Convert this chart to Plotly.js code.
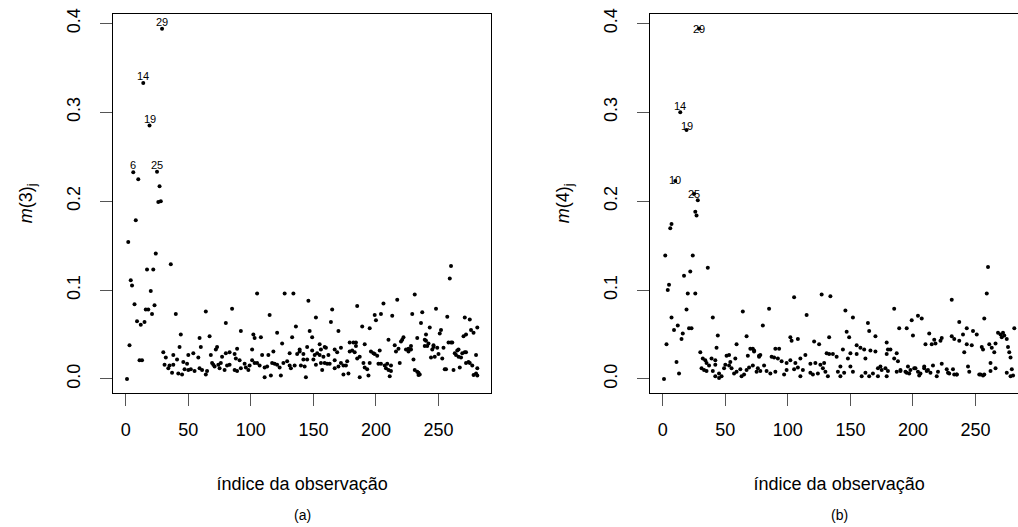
<!DOCTYPE html>
<html><head><meta charset="utf-8">
<script src="https://cdn.plot.ly/plotly-3.0.1.min.js"></script>
<style>html,body{margin:0;padding:0;overflow:hidden;background:#fff}#plot{width:1040px;height:527px}</style>
</head><body><div id="plot"></div>
<script>
// panel (a): observation index and m(3)_j
const obsA = [29,14,19,6,25,10,27,28,26,8,2,
24,36,17,22,4,5,20,105,7,23,21,16,18,40,64,85,9,12,15,80,92,44,102,103,59,67,3,43,60,73,72,89,11,13,1,30,32,31,38,41,38,34,35,37,42,45,47,50,52,55,59,61,65,64,50,54,58,46,49,69,70,74,76,77,80,83,87,88,91,68,71,75,79,81,83,87,89,92,95,96,98,99,101,103,105,
260,259,127,134,231,146,217,185,206,248,165,115,237,199,204,200,213,229,152,257,271,275,164,236,136,189,195,243,281,170,147,121,252,251,276,278,108,149,133,240,270,272,210,222,221,220,233,239,242,246,258,261,125,155,179,184,191,228,226,215,218,216,241,246,245,249,263,265,266,269,271,280,281,275,277,101,107,109,114,118,111,113,111,116,124,117,119,121,123,126,129,131,132,135,131,137,139,139,142,145,140,143,144,142,145,150,151,149,156,159,160,153,155,158,162,156,159,161,163,157,152,167,167,170,172,174,176,177,174,178,167,169,172,179,181,182,184,185,187,187,183,191,193,194,190,195,198,202,204,207,209,208,210,212,212,211,196,199,201,203,219,224,226,228,230,231,234,235,239,240,244,247,250,253,254,256,260,262,264,266,267,268,272,274,280,281,
233,234,255,272,278];
const m3 = [0.394,0.333,0.285,0.2325,0.233,0.2246,0.2167,0.200,0.199,0.1785,0.154,
0.141,0.129,0.123,0.123,0.111,0.105,0.099,0.096,0.084,0.083,0.073,0.078,0.078,0.073,0.076,0.079,0.065,0.061,0.064,0.063,0.054,0.050,0.050,0.046,0.046,0.048,0.038,0.036,0.036,0.036,0.033,0.034,0.021,0.021,0.0,0.030,0.024,0.016,0.027,0.022,0.016,0.012,0.015,0.007,0.006,0.005,0.011,0.010,0.011,0.009,0.012,0.010,0.009,0.005,0.027,0.029,0.024,0.019,0.017,0.018,0.016,0.016,0.018,0.025,0.029,0.030,0.028,0.023,0.021,0.027,0.014,0.012,0.010,0.015,0.016,0.010,0.009,0.012,0.017,0.013,0.010,0.015,0.021,0.018,0.018,
0.127,0.113,0.096,0.096,0.095,0.088,0.089,0.082,0.085,0.079,0.078,0.072,0.075,0.072,0.073,0.066,0.071,0.073,0.069,0.070,0.069,0.067,0.064,0.063,0.059,0.059,0.057,0.058,0.058,0.054,0.054,0.052,0.055,0.051,0.055,0.052,0.047,0.047,0.047,0.050,0.048,0.050,0.044,0.047,0.044,0.042,0.046,0.044,0.040,0.038,0.041,0.041,0.040,0.039,0.041,0.041,0.039,0.037,0.034,0.038,0.034,0.031,0.037,0.036,0.033,0.035,0.029,0.032,0.033,0.029,0.030,0.027,0.012,0.018,0.015,0.033,0.015,0.027,0.027,0.031,0.013,0.014,0.002,0.004,0.004,0.018,0.017,0.016,0.013,0.018,0.020,0.015,0.012,0.015,0.029,0.028,0.031,0.033,0.028,0.036,0.015,0.014,0.002,0.022,0.022,0.022,0.027,0.032,0.033,0.036,0.035,0.029,0.027,0.025,0.027,0.018,0.018,0.017,0.017,0.010,0.016,0.021,0.012,0.014,0.018,0.015,0.015,0.020,0.005,0.006,0.033,0.030,0.035,0.031,0.032,0.041,0.037,0.023,0.025,0.002,0.030,0.013,0.011,0.004,0.018,0.018,0.029,0.017,0.017,0.015,0.017,0.012,0.010,0.009,0.015,0.003,0.031,0.028,0.026,0.032,0.018,0.033,0.031,0.033,0.022,0.010,0.007,0.005,0.037,0.043,0.024,0.025,0.028,0.023,0.035,0.011,0.041,0.010,0.027,0.025,0.013,0.024,0.030,0.019,0.006,0.004,
0.008,0.0045,0.011,0.018,0.0045];
// panel (b): observation index and m(4)_j
const obsB = [29,14,19,10,25,28,26,27,7,6,
2,24,36,22,17,5,4,20,26,19,64,7,40,12,9,21,23,16,15,44,67,3,59,43,30,32,34,39,42,51,53,72,73,77,68,58,54,11,13,1,31,33,35,37,35,42,45,47,45,49,50,53,55,57,59,62,63,65,67,69,72,76,78,42,40,
260,259,231,105,127,134,85,185,146,115,152,204,207,199,237,164,80,189,195,243,248,147,165,213,200,170,149,133,102,108,103,231,233,217,223,218,222,121,125,179,210,215,70,73,77,78,90,93,89,87,92,95,99,102,106,108,110,114,118,122,126,129,131,133,136,139,144,148,150,155,155,158,161,162,166,170,172,175,178,180,182,179,185,187,188,190,194,196,198,201,204,206,209,212,216,220,223,227,229,233,235,237,240,243,247,251,255,257,256,261,254,257,244,241,
75,81,83,86,90,97,99,105,110,112,118,120,124,128,130,132,140,142,142,145,150,152,159,162,165,168,172,174,179,180,187,190,195,197,202,205,209,211,214,219,228,232,235,245,253,256,262,
262,263,265,266,266,268,270,271,272,273,275,275,276,277,278,278,279,280,281];
const m4 = [0.394,0.300,0.280,0.2227,0.208,0.201,0.188,0.184,0.1744,0.1695,
0.139,0.139,0.125,0.121,0.116,0.106,0.100,0.096,0.096,0.078,0.076,0.069,0.069,0.060,0.055,0.057,0.057,0.051,0.045,0.049,0.048,0.039,0.039,0.035,0.030,0.023,0.021,0.023,0.021,0.026,0.027,0.034,0.032,0.026,0.026,0.023,0.019,0.019,0.006,0.0,0.012,0.010,0.009,0.015,0.018,0.003,0.006,0.003,0.001,0.012,0.016,0.015,0.012,0.006,0.008,0.011,0.003,0.005,0.010,0.013,0.015,0.012,0.009,0.016,0.009,
0.126,0.096,0.089,0.092,0.095,0.093,0.079,0.079,0.077,0.072,0.069,0.071,0.068,0.066,0.064,0.063,0.060,0.057,0.057,0.057,0.054,0.053,0.054,0.051,0.049,0.048,0.047,0.047,0.047,0.045,0.043,0.048,0.045,0.044,0.046,0.040,0.043,0.042,0.039,0.041,0.039,0.039,0.034,0.031,0.025,0.027,0.034,0.034,0.024,0.025,0.023,0.020,0.018,0.021,0.018,0.013,0.023,0.027,0.017,0.018,0.016,0.018,0.029,0.028,0.028,0.025,0.033,0.023,0.029,0.028,0.038,0.035,0.033,0.023,0.032,0.031,0.012,0.010,0.012,0.033,0.033,0.028,0.023,0.029,0.020,0.009,0.008,0.014,0.010,0.012,0.008,0.006,0.014,0.010,0.015,0.008,0.017,0.011,0.006,0.005,0.005,0.043,0.050,0.039,0.038,0.050,0.036,0.068,0.033,0.039,0.005,0.005,0.014,0.030,
0.008,0.015,0.009,0.006,0.008,0.005,0.010,0.011,0.003,0.010,0.007,0.005,0.006,0.012,0.008,0.003,0.008,0.003,0.014,0.007,0.014,0.008,0.003,0.007,0.003,0.006,0.003,0.014,0.003,0.009,0.008,0.010,0.007,0.006,0.012,0.004,0.012,0.009,0.007,0.003,0.007,0.011,0.005,0.008,0.005,0.004,0.009,
0.018,0.035,0.030,0.040,0.012,0.052,0.050,0.047,0.052,0.049,0.045,0.007,0.036,0.030,0.024,0.003,0.011,0.004,0.057];
const labelsA = [29,14,19,6,25];
const labelsB = [29,14,19,10,25];
const yTicks = [0.0,0.1,0.2,0.3,0.4];
const yTickText = ['0.0','0.1','0.2','0.3','0.4'];
const xTicks = [0,50,100,150,200,250];

const W = 1040, H = 527;
const FONT = 'Liberation Sans, Arial, Helvetica, sans-serif';
function peak(obs, vals, k){let best=-1;for(let i=0;i<obs.length;i++){if(obs[i]===k&&vals[i]>best)best=vals[i];}return best;}
const shiftB = {29:0,14:6,19:4,10:1,25:0};
const ann = [];
labelsA.forEach(k=>ann.push({xref:'x',yref:'y',x:k,y:peak(obsA,m3,k),text:String(k),showarrow:false,yshift:7,font:{family:FONT,size:11,color:'#000'}}));
labelsB.forEach(k=>ann.push({xref:'x2',yref:'y2',x:k,y:peak(obsB,m4,k),text:String(k),showarrow:false,yshift:shiftB[k],font:{family:FONT,size:11,color:'#000'}}));
ann.push({xref:'paper',yref:'paper',x:302/W,y:1-515/H,xanchor:'center',yanchor:'middle',text:'(a)',showarrow:false,font:{family:FONT,size:14,color:'#000'}});
ann.push({xref:'paper',yref:'paper',x:839/W,y:1-515/H,xanchor:'center',yanchor:'middle',text:'(b)',showarrow:false,font:{family:FONT,size:14,color:'#000'}});

const mk = {color:'#000',size:4};
const traces = [
 {x:obsA,y:m3,type:'scatter',mode:'markers',marker:mk,xaxis:'x',yaxis:'y',hoverinfo:'x+y'},
 {x:obsB,y:m4,type:'scatter',mode:'markers',marker:mk,xaxis:'x2',yaxis:'y2',hoverinfo:'x+y'}
];
const yrange=[-0.0158,0.4108], xrange=[-10.2,292.2];
const ydom=[1-393/H,1-13.8/H];
function xa(dom){return {domain:dom,range:xrange,showgrid:false,zeroline:false,showline:true,mirror:true,linecolor:'#000',linewidth:1,ticks:'outside',ticklen:12,tickwidth:1,tickcolor:'#555',tickvals:xTicks,ticktext:xTicks.map(String),tickfont:{family:FONT,size:18,color:'#000'},ticklabelstandoff:8,title:{text:'índice da observação',font:{family:FONT,size:18,color:'#000'},standoff:38}};}
function ya(title,anchor){return {domain:ydom,range:yrange,anchor:anchor,showgrid:false,zeroline:false,showline:true,mirror:true,linecolor:'#000',linewidth:1,ticks:'outside',ticklen:12,tickwidth:1,tickcolor:'#555',tickvals:yTicks,ticktext:yTickText,tickangle:-90,tickfont:{family:FONT,size:18,color:'#000'},ticklabelstandoff:13,title:{text:title,font:{family:FONT,size:18,color:'#000'},standoff:26}};}
const layout = {
 width:W,height:H,margin:{l:0,r:0,t:0,b:0},paper_bgcolor:'#fff',plot_bgcolor:'#fff',showlegend:false,
 font:{family:FONT,color:'#000'},
 xaxis:Object.assign(xa([113/W,491.3/W]),{anchor:'y'}),
 yaxis:ya('<i>m</i>(3)<sub>j</sub>','x'),
 xaxis2:Object.assign(xa([650/W,1028.3/W]),{anchor:'y2'}),
 yaxis2:ya('<i>m</i>(4)<sub>j</sub>','x2'),
 annotations:ann
};
Plotly.newPlot('plot',traces,layout,{staticPlot:true,displayModeBar:false});
</script></body></html>
